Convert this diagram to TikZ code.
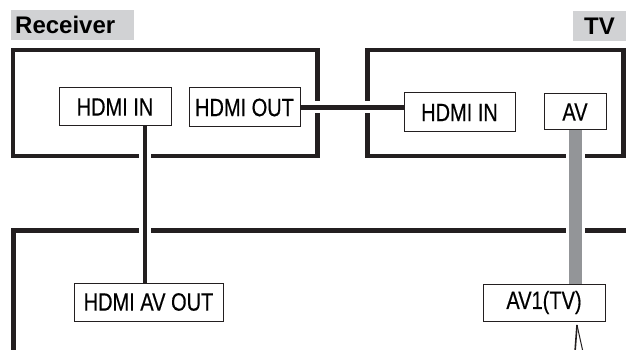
\documentclass[tikz,border=0pt]{standalone}
\usepackage{fontspec}
\setmainfont{Liberation Sans}
\newfontfamily\portfont[FakeStretch=0.8, FakeBold=0.4]{Liberation Sans}
\definecolor{ink}{HTML}{231F20}
\definecolor{tagfill}{HTML}{D1D2D4}
\definecolor{avgrey}{HTML}{939598}
\tikzset{
  frame/.style={draw=ink, line width=4.5pt},
  port/.style={draw=ink, line width=1pt, inner sep=0pt, font=\portfont\fontsize{25}{28}\selectfont},
  tag/.style={fill=tagfill, inner ysep=0pt, minimum height=30pt, font=\bfseries\fontsize{24}{28}\selectfont},
  cable/.style={draw=ink, line width=4.5pt, preaction={draw=white, line width=12pt, shorten <=2pt, shorten >=2pt}},
  avcable/.style={draw=avgrey, line width=13pt, preaction={draw=white, line width=19pt, shorten <=2pt, shorten >=2pt}}
}
\begin{document}
\begin{tikzpicture}[x=1pt, y=-1pt]
  \useasboundingbox (0,0) rectangle (626,350);
  \clip (0,0) rectangle (626,350);

  % Titles
  \node[tag, anchor=north west, text width=115pt, inner xsep=4pt, align=left] (rcvtag) at (11,10) {Receiver};
  \node[tag, anchor=north east, text width=31pt, inner xsep=11pt, align=right] (tvtag) at (626,11) {TV};

  % Receiver, TV and recorder
  \draw[frame] (13,50) rectangle (317.5,156);
  \draw[frame] (367.5,50) rectangle (623.5,156);
  \draw[frame] (13.5,360) -- (13.5,230.5) -- (640,230.5);

  % Terminals
  \node[port, minimum width=112pt, minimum height=38pt] (rin) at (115,107) {HDMI IN};
  \node[port, minimum width=111pt, minimum height=39pt] (rout) at (244.5,107.5) {HDMI OUT};
  \node[port, minimum width=111pt, minimum height=39pt] (tin) at (459.5,112.5) {HDMI IN};
  \node[port, minimum width=62pt, minimum height=36pt] (tav) at (575,112) {AV};
  \node[port, minimum width=149pt, minimum height=38pt] (avout) at (148.5,302) {HDMI AV OUT};
  \node[port, minimum width=122pt, minimum height=37pt] (avone) at (544,302.5) {AV1(TV)};

  % HDMI cables
  \coordinate (drop) at (145,0);
  \draw[cable] (rout.east) -- (rout.east -| tin.west);
  \draw[cable] (rin.south -| drop) -- (avout.north -| drop);

  % AV cable
  \draw[avcable] (tav.south) -- (tav.south |- avone.north);

  % Arrow under AV1(TV)
  \coordinate (tip) at (577,325);
  \draw[ink, line width=1.6pt] (tip) -- (575,352);
  \draw[ink, line width=1pt] (tip) -- (583,352);

\end{tikzpicture}
\end{document}
